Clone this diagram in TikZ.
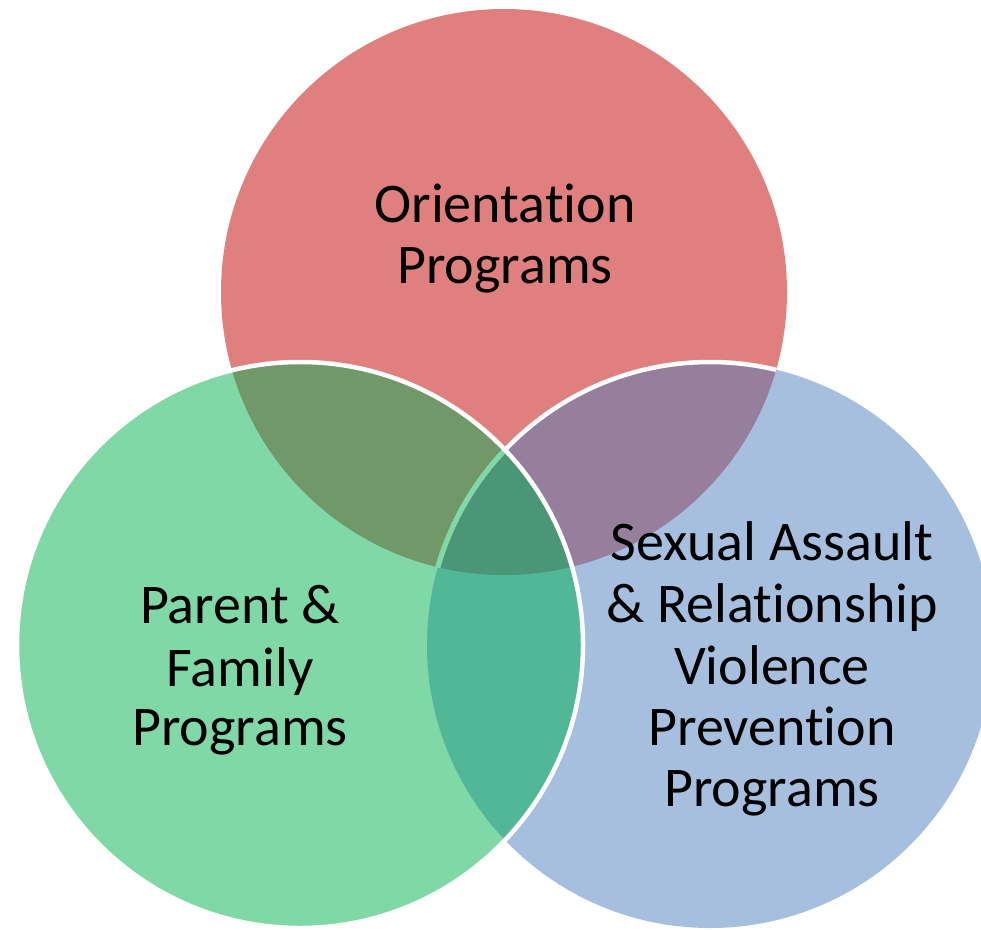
\documentclass[tikz,border=0pt]{standalone}
\usepackage{fontspec}
\setmainfont{Carlito}[Ligatures={NoCommon}]
\definecolor{cR}{HTML}{DF7F7E}
\definecolor{cG}{HTML}{80D8A7}
\definecolor{cB}{HTML}{A7BFDE}
\definecolor{cRG}{HTML}{709868}
\definecolor{cRB}{HTML}{967F9C}
\definecolor{cGB}{HTML}{52B797}
\definecolor{cRGB}{HTML}{4A9676}
\tikzset{
  lbl/.style={font=\fontsize{56}{62}\selectfont, text=black, inner sep=0pt, anchor=base},
  whiteline/.style={draw=white, line width=4.5pt},
  tintline/.style={draw=cG, line width=5pt}
}
\begin{document}
\begin{tikzpicture}[x=1pt,y=-1pt]
\useasboundingbox (0,0) rectangle (981,929);
\clip (0,0) rectangle (981,929);
\def\CR{(504,292) circle (283)}
\def\CG{(300,645) circle (283)}
\def\CB{(710,645) circle (283)}
% base fills
\fill[cR] \CR;
\fill[cG] \CG;
\fill[cB] \CB;
% pairwise overlaps
\begin{scope}\clip \CR; \fill[cRG] \CG; \end{scope}
\begin{scope}\clip \CR; \fill[cRB] \CB; \end{scope}
\begin{scope}\clip \CG; \fill[cGB] \CB; \end{scope}
% triple overlap
\begin{scope}\clip \CR; \clip \CG; \fill[cRGB] \CB; \end{scope}
% outline of blue circle inside red: white, tinted where under green
\begin{scope}\clip \CR; \path[whiteline] \CB; \end{scope}
\begin{scope}\clip \CR; \clip \CG; \path[tintline] \CB; \end{scope}
% outline of green circle: white
\path[whiteline] \CG;
% labels
\node[lbl] (o1) at (505,222) {Orientation};
\node[lbl] (o2) at (505,283) {Programs};
\node[lbl] (p1) at (240,623) {Parent \&};
\node[lbl] (p2) at (240,686) {Family};
\node[lbl] (p3) at (240,745) {Programs};
\node[lbl] (s1) at (772,560) {Sexual Assault};
\node[lbl] (s2) at (772,622) {\& Relationship};
\node[lbl] (s3) at (772,684) {Violence};
\node[lbl] (s4) at (772,745) {Prevention};
\node[lbl] (s5) at (772,806) {Programs};
\end{tikzpicture}
\end{document}
